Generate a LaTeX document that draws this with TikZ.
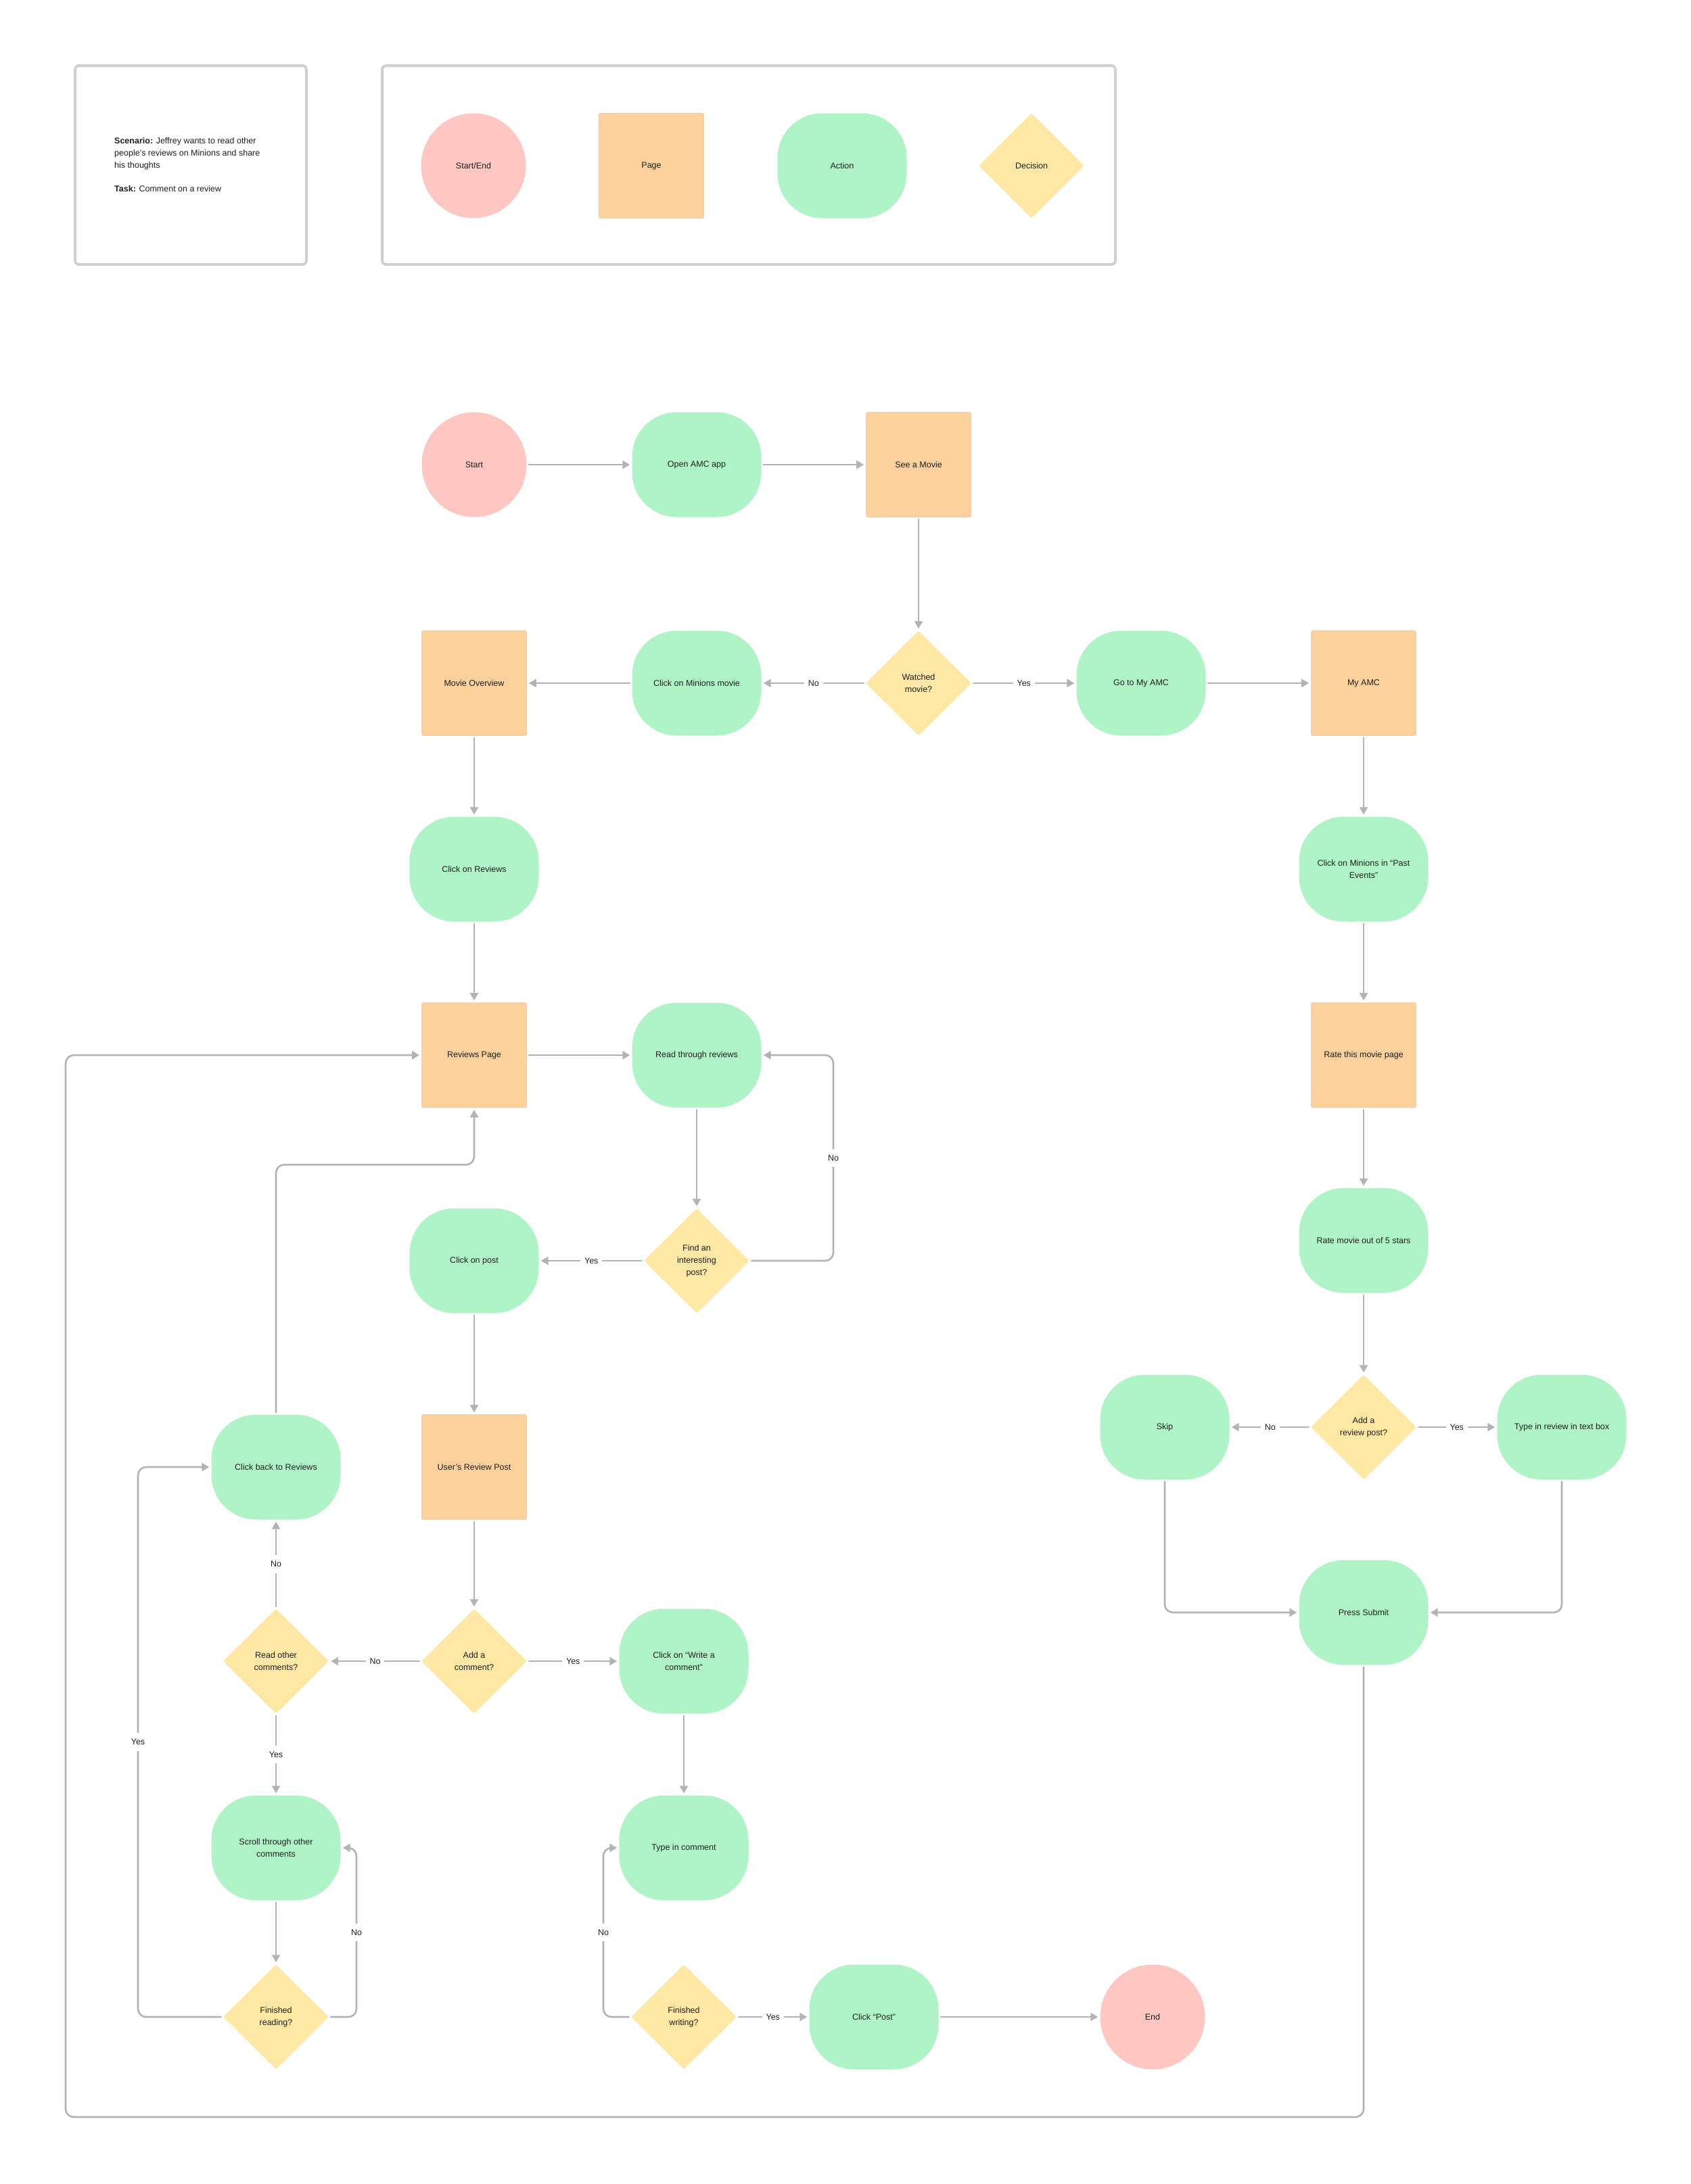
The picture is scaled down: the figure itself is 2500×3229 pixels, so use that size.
\documentclass[tikz,border=0pt]{standalone}
\usepackage{fontspec}
\setmainfont{Liberation Sans}
\usetikzlibrary{shapes.geometric,arrows.meta}

\definecolor{endpink}{HTML}{FFC7C2}
\definecolor{pageorange}{HTML}{FCD19C}
\definecolor{actgreen}{HTML}{AFF4C6}
\definecolor{decyellow}{HTML}{FFE8A3}
\definecolor{wire}{HTML}{B3B3B3}
\definecolor{framegrey}{HTML}{D0D0D0}
\definecolor{ink}{HTML}{1E1E1E}

\tikzset{
  base/.style={font=\fontsize{12.5}{18}\selectfont, text=ink, align=center, inner sep=0pt},
  startend/.style={base, circle, fill=endpink, minimum size=155pt},
  pagebox/.style={base, rectangle, fill=pageorange, draw=pageorange!85!black!60, line width=0.6pt,
    minimum width=155pt, minimum height=155pt, rounded corners=2pt},
  actbox/.style={base, rectangle, fill=actgreen, minimum width=191pt, minimum height=155pt, rounded corners=66pt},
  decbox/.style={base, diamond, fill=decyellow, minimum width=156pt, minimum height=155pt, rounded corners=3pt},
  flow/.style={draw=wire, line width=2.6pt, rounded corners=12pt,
    -{Triangle[length=11pt,width=12pt]}, shorten >=3pt, shorten <=3pt},
  lbl/.style={base, fill=white, inner xsep=6pt, inner ysep=9pt, rounded corners=0pt},
  framebox/.style={draw=framegrey, line width=4pt, rounded corners=6pt},
}

\begin{document}
\begin{tikzpicture}[x=1pt, y=-1pt, line cap=round, line join=round]

  %% ════ scenario + legend ════
  \draw[framebox] (111,97) rectangle (453,391);
  \draw[framebox] (565,97) rectangle (1649,391);
  \node[base, align=left, anchor=west] (scenario) at (169,244)
    {\textbf{Scenario:} Jeffrey wants to read other\\people’s reviews on Minions and share\\his thoughts\\[17pt]\textbf{Task:} Comment on a review};
  \node[startend] (lgstart) at (700,245) {Start/End};
  \node[pagebox]  (lgpage)  at (963,245) {Page};
  \node[actbox]   (lgact)   at (1245,245) {Action};
  \node[decbox]   (lgdec)   at (1525,245) {Decision};

  %% ════ flow nodes ════
  \node[startend] (start)     at (701,687)  {Start};
  \node[actbox]   (openapp)   at (1030,687) {Open AMC app};
  \node[pagebox]  (seemovie)  at (1358,687) {See a Movie};

  \node[pagebox]  (movieover) at (701,1010)  {Movie Overview};
  \node[actbox]   (clickmin)  at (1030,1010) {Click on Minions movie};
  \node[decbox]   (watched)   at (1358,1010) {Watched\\movie?};
  \node[actbox]   (gomyamc)   at (1687,1010) {Go to My AMC};
  \node[pagebox]  (myamc)     at (2016,1010) {My AMC};

  \node[actbox]   (clickrev)  at (701,1285)  {Click on Reviews};
  \node[actbox]   (clickpast) at (2016,1285) {Click on Minions in “Past\\Events”};

  \node[pagebox]  (revpage)   at (701,1560)  {Reviews Page};
  \node[actbox]   (readrev)   at (1030,1560) {Read through reviews};
  \node[pagebox]  (ratepage)  at (2016,1560) {Rate this movie page};

  \node[actbox]   (clickpost) at (701,1864)  {Click on post};
  \node[decbox]   (findpost)  at (1030,1864) {Find an\\interesting\\post?};
  \node[actbox]   (ratestars) at (2016,1834) {Rate movie out of 5 stars};

  \node[actbox]   (skip)      at (1722,2110) {Skip};
  \node[decbox]   (addrev)    at (2016,2110) {Add a\\review post?};
  \node[actbox]   (typerev)   at (2309,2110) {Type in review in text box};

  \node[actbox]   (clickback) at (408,2169)  {Click back to Reviews};
  \node[pagebox]  (userpost)  at (701,2169)  {User’s Review Post};
  \node[actbox]   (submit)    at (2016,2384) {Press Submit};

  \node[decbox]   (readother) at (408,2456)  {Read other\\comments?};
  \node[decbox]   (addcomm)   at (701,2456)  {Add a\\comment?};
  \node[actbox]   (writecomm) at (1011,2456) {Click on “Write a\\comment”};

  \node[actbox]   (scroll)    at (408,2732)  {Scroll through other\\comments};
  \node[actbox]   (typecomm)  at (1011,2732) {Type in comment};

  \node[decbox]   (finread)   at (408,2982)  {Finished\\reading?};
  \node[decbox]   (finwrite)  at (1011,2982) {Finished\\writing?};
  \node[actbox]   (postbtn)   at (1292,2982) {Click “Post”};
  \node[startend] (finish)    at (1704,2982) {End};

  %% ════ bend points ════
  \coordinate (findloop)   at (1232,1560);
  \coordinate (backloop)   at (701,1722);
  \coordinate (readloop)   at (204,2169);
  \coordinate (scrollloop) at (527,2732);
  \coordinate (writeloop)  at (892,2732);
  \coordinate (cornerbl)   at (97,3130);

  %% ════ connectors ════
  \draw[flow] (start) -- (openapp);
  \draw[flow] (openapp) -- (seemovie);
  \draw[flow] (seemovie) -- (watched);
  \draw[flow] (watched) -- node[lbl]{No} (clickmin);
  \draw[flow] (clickmin) -- (movieover);
  \draw[flow] (watched) -- node[lbl]{Yes} (gomyamc);
  \draw[flow] (gomyamc) -- (myamc);
  \draw[flow] (myamc) -- (clickpast);
  \draw[flow] (clickpast) -- (ratepage);
  \draw[flow] (ratepage) -- (ratestars);
  \draw[flow] (ratestars) -- (addrev);
  \draw[flow] (addrev) -- node[lbl]{No} (skip);
  \draw[flow] (addrev) -- node[lbl]{Yes} (typerev);
  \draw[flow] (skip) |- (submit);
  \draw[flow] (typerev) |- (submit);
  \draw[flow] (submit) |- (cornerbl) |- (revpage);

  \draw[flow] (movieover) -- (clickrev);
  \draw[flow] (clickrev) -- (revpage);
  \draw[flow] (revpage) -- (readrev);
  \draw[flow] (readrev) -- (findpost);
  \draw[flow] (findpost) -| node[lbl,pos=0.75]{No} (findloop) -- (readrev);
  \draw[flow] (findpost) -- node[lbl]{Yes} (clickpost);
  \draw[flow] (clickpost) -- (userpost);
  \draw[flow] (userpost) -- (addcomm);
  \draw[flow] (addcomm) -- node[lbl]{No} (readother);
  \draw[flow] (addcomm) -- node[lbl]{Yes} (writecomm);
  \draw[flow] (readother) -- node[lbl]{No} (clickback);
  \draw[flow] (readother) -- node[lbl]{Yes} (scroll);
  \draw[flow] (clickback) |- (backloop) -- (revpage);
  \draw[flow] (scroll) -- (finread);
  \draw[flow] (finread) -| node[lbl,pos=0.75]{Yes} (readloop) -- (clickback);
  \draw[flow] (finread) -| node[lbl,pos=0.75]{No} (scrollloop) -- (scroll);
  \draw[flow] (writecomm) -- (typecomm);
  \draw[flow] (finwrite) -| node[lbl,pos=0.75]{No} (writeloop) -- (typecomm);
  \draw[flow] (finwrite) -- node[lbl]{Yes} (postbtn);
  \draw[flow] (postbtn) -- (finish);

  % fix the canvas to the reference size
  \pgfresetboundingbox
  \path[use as bounding box] (0,0) rectangle (2500,3229);
\end{tikzpicture}
\end{document}
